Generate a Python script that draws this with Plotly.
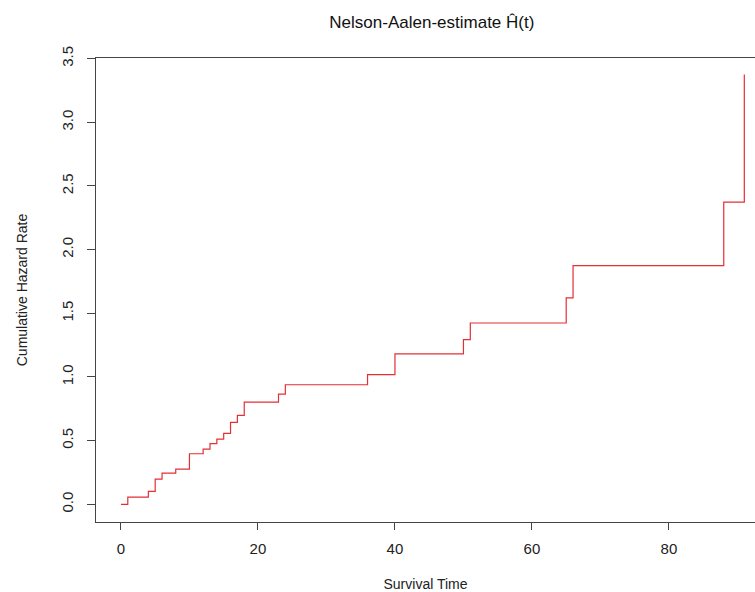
import plotly.graph_objects as go

# Event times and Nelson-Aalen cumulative hazard
times = [0, 1, 4, 5, 6, 8, 10, 12, 13, 14, 15, 16, 17, 18, 23, 24, 36, 40, 50, 51, 65, 66, 88, 91]
hazard = [0.0, 0.057, 0.101, 0.198, 0.245, 0.277, 0.397, 0.434, 0.476, 0.512, 0.557, 0.643,
          0.698, 0.803, 0.866, 0.939, 1.018, 1.181, 1.293, 1.424, 1.621, 1.875, 2.373, 3.376]

x_ticks = [0, 20, 40, 60, 80]
y_ticks = [0.0, 0.5, 1.0, 1.5, 2.0, 2.5, 3.0, 3.5]
y_tick_labels = ["0.0", "0.5", "1.0", "1.5", "2.0", "2.5", "3.0", "3.5"]

fig = go.Figure()
fig.add_trace(go.Scatter(
    x=times, y=hazard, mode="lines", line=dict(color="#e42f35", width=1.2, shape="hv"),
    showlegend=False, hoverinfo="skip"))

font_family = "Liberation Sans, Arial, sans-serif"
fig.update_layout(
    width=755, height=592,
    margin=dict(l=96, r=0, t=58, b=70),
    paper_bgcolor="white", plot_bgcolor="white",
    font=dict(family=font_family, color="#222", size=14),
    title=dict(text="Nelson-Aalen-estimate Ĥ(t)", x=0.572, xanchor="center",
               y=0.962, yanchor="middle", font=dict(size=17, color="#111")),
    xaxis=dict(range=[-3.64, 92.56], tickmode="array", tickvals=x_ticks,
               ticks="outside", ticklen=7, tickcolor="#444", tickwidth=1,
               showline=True, linecolor="#444", linewidth=1, mirror=True,
               showgrid=False, zeroline=False, tickfont=dict(size=15),
               ticklabelstandoff=6,
               title=dict(text="Survival Time", font=dict(size=14), standoff=25)),
    yaxis=dict(range=[-0.139, 3.505], tickmode="array", tickvals=y_ticks, ticktext=y_tick_labels,
               ticks="outside", ticklen=8, tickcolor="#444", tickwidth=1, tickangle=-90,
               showline=True, linecolor="#444", linewidth=1, mirror=False,
               showgrid=False, zeroline=False, tickfont=dict(size=15),
               ticklabelstandoff=8,
               title=dict(text="Cumulative Hazard Rate", font=dict(size=14), standoff=28)),
)

fig.write_html("out.html", config={"displayModeBar": False},
               post_script="document.body.style.margin='0';")
